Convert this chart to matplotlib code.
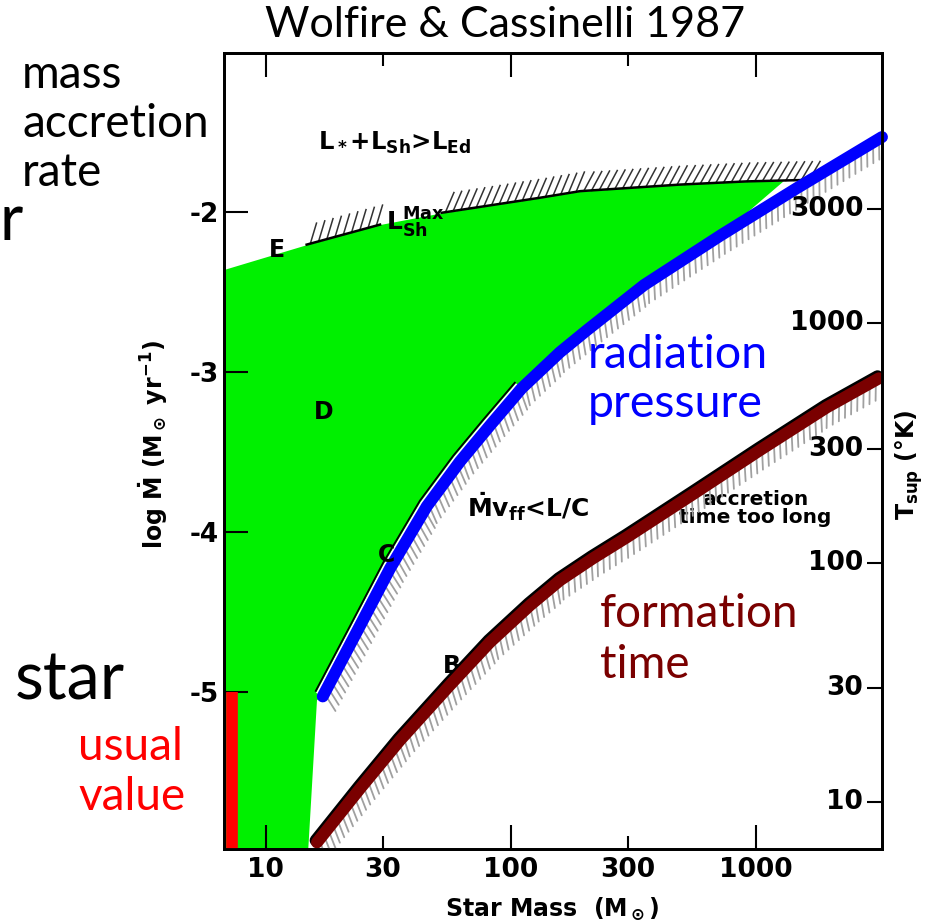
import matplotlib.pyplot as plt
import matplotlib.patheffects as pe
from matplotlib.ticker import NullLocator
from matplotlib.transforms import offset_copy, blended_transform_factory

plt.rcParams['mathtext.default'] = 'regular'
plt.rcParams['axes.unicode_minus'] = False

# ---- limit curves (star mass in Msun, log Mdot in Msun/yr) ----
# C : radiation pressure of the protostar halts accretion
rad_mass = [17.1, 23.6, 32.2, 45.5, 62.1, 82.3, 111, 159, 205, 350, 722, 1474, 3278]
rad_mdot = [-5.027, -4.621, -4.227, -3.839, -3.560, -3.335, -3.102, -2.877,
            -2.739, -2.458, -2.146, -1.852, -1.533]

# B : accretion time longer than formation time
form_mass = [16.2, 24.3, 35.3, 56.5, 82.3, 120, 159, 217, 298, 555, 1041, 1954, 3186]
form_mdot = [-5.939, -5.602, -5.302, -4.957, -4.689, -4.458, -4.302, -4.164,
             -4.033, -3.764, -3.489, -3.221, -3.04]

# E : L* + L_sh reaches the Eddington limit
lum_mass = [14.7, 29.3, 52.3, 132, 192, 491, 919, 1714]
lum_mdot = [-2.205, -2.08, -2.006, -1.912, -1.871, -1.83, -1.81, -1.80]

# allowed region (D)
green_top_mass = [6.76, 14.7, 29.3, 52.3, 132, 192, 491, 919, 1300]
green_top_mdot = [-2.364, -2.209, -2.083, -2.01, -1.916, -1.875, -1.833, -1.8125, -1.81]
green_edge_mass = [16.2, 14.9]
green_edge_mdot = [-5.05, -6.0]

# typical low-mass accretion rate
usual_mass = 7.3
usual_mdot = [-5.0, -6.0]

mass_major = [10, 100, 1000]
mass_minor = [30, 300]
mdot_ticks = [-5, -4, -3, -2]
tsup_ticks = [10, 30, 100, 300, 1000, 3000]

W, H = 933, 924
fig = plt.figure(figsize=(W / 100, H / 100), dpi=100)
ax = fig.add_axes([224 / W, 1 - 849 / H, (881.7 - 224) / W, (849 - 53.3) / H])


def fpos(x, y):
    return x / W, 1 - y / H


AXF = dict(family='DejaVu Sans', fontweight='bold')
OVF = 'Lato'

ax.set_xscale('log')
ax.set_xlim(6.76, 3270)
ax.set_ylim(-5.98, -1.01)

# green allowed zone
poly_m = [green_top_mass[0]] + green_top_mass + rad_mass[10::-1] + green_edge_mass
poly_y = [-6.0] + green_top_mdot + rad_mdot[10::-1] + green_edge_mdot
ax.fill(poly_m, poly_y, color='#00f000', lw=0, zorder=1)

# Eddington / L_sh max boundary with hatching above
top_fx = [pe.TickedStroke(spacing=5.5, angle=58, length=2.8, linewidth=1.1,
                          foreground='#333333'), pe.Normal()]
ax.plot(lum_mass[:2], lum_mdot[:2], color='black', lw=1.8, zorder=3, path_effects=top_fx)
ax.plot(lum_mass[2:], lum_mdot[2:], color='black', lw=1.8, zorder=3, path_effects=top_fx)

# radiation pressure limit: original thin line C beside the blue band
ax.plot(rad_mass[:7], rad_mdot[:7], color='white', lw=11, zorder=3,
        solid_capstyle='butt')
ax.plot(rad_mass[:7], rad_mdot[:7], color='black', lw=1.3, zorder=3,
        transform=offset_copy(ax.transData, fig=fig, x=-5, y=4, units='points'))
hatch = pe.TickedStroke(spacing=5, angle=-120, length=3.0, linewidth=1.3,
                        foreground='#a0a0a0')
ax.plot(rad_mass, rad_mdot, color='#0000ff', lw=8.6, zorder=4,
        solid_capstyle='round', solid_joinstyle='round', clip_on=False,
        path_effects=[hatch, pe.Normal()])

# formation time limit
ax.plot(form_mass, form_mdot, color='black', lw=8.6, zorder=4,
        solid_capstyle='round', solid_joinstyle='round',
        transform=offset_copy(ax.transData, fig=fig, x=-1, y=1.5, units='points'))
ax.plot(form_mass, form_mdot, color='#7a0000', lw=8.6, zorder=4,
        solid_capstyle='round', solid_joinstyle='round',
        path_effects=[hatch, pe.Normal()])

# usual value bar
ax.plot([usual_mass, usual_mass], usual_mdot, color='#ff0000', lw=8.4, zorder=4,
        solid_capstyle='butt')

# region labels
ax.text(11.1, -2.24, 'E', ha='center', va='center', fontsize=17, zorder=5, **AXF)
ax.text(31.0, -2.07, r'L$_{Sh}^{Max}$', ha='left', va='center', fontsize=18, zorder=5, **AXF)
ax.text(33.7, -1.571, r'L$_*$+L$_{Sh}$>L$_{Ed}$', ha='center', va='center',
        fontsize=17.5, zorder=5, **AXF)
ax.text(17.2, -3.25, 'D', ha='center', va='center', fontsize=17, zorder=5, **AXF)
ax.text(31.2, -4.146, 'C', ha='center', va='center', fontsize=17, zorder=5, **AXF)
ax.text(117.7, -3.84, r'$\dot{M}$v$_{ff}$<L/C', ha='center', va='center',
        fontsize=18, zorder=5, **AXF)
ax.text(57.6, -4.834, 'B', ha='center', va='center', fontsize=17, zorder=3, **AXF)
ax.text(1000, -3.855, 'accretion\ntime too long', ha='center', va='center',
        fontsize=14.5, linespacing=0.95, zorder=3, **AXF)

# bottom / top ticks
ax.set_xticks(mass_major, labels=[str(m) for m in mass_major], fontsize=19, **AXF)
ax.set_xticks(mass_minor, labels=[str(m) for m in mass_minor], minor=True,
              fontsize=19, **AXF)
ax.tick_params(axis='x', which='major', direction='in', length=17, width=1.5,
               top=True, pad=6)
ax.tick_params(axis='x', which='minor', direction='in', length=9.5, width=1.5,
               top=True, pad=6)
ax.set_yticks(mdot_ticks, labels=[str(v) for v in mdot_ticks], fontsize=19, **AXF)
ax.tick_params(axis='y', direction='in', length=17, width=1.5, pad=4)
for s in ax.spines.values():
    s.set_linewidth(2)

ax.set_xlabel(r'Star Mass  (M$_\odot$)', fontsize=17, **AXF)
ax.xaxis.set_label_coords(0.499, -0.058)
ax.xaxis.label.set_va('top')
ax.set_ylabel(r'log $\dot{M}$ (M$_\odot$ yr$^{-1}$)', fontsize=17, **AXF)
ax.yaxis.set_label_coords(-0.082, 0.508)

# supernova-shell temperature axis on the right, labels sit inside the frame
ax2 = ax.twinx()
ax2.set_yscale('log')
ax2.set_ylim(6.37, 13460)
ax2.set_yticks(tsup_ticks, labels=[])
ax2.yaxis.set_minor_locator(NullLocator())
ax2.tick_params(axis='y', direction='in', length=11, width=1.5)
tlab = blended_transform_factory(ax2.transAxes, ax2.transData)
for t in tsup_ticks:
    ax2.text(0.972, t, str(t), transform=tlab, ha='right', va='center',
             fontsize=19, **AXF)
ax2.set_ylabel(r'T$_{sup}$ (°K)', fontsize=17, **AXF)
ax2.yaxis.set_label_coords(1.017, 0.483)
for s in ax2.spines.values():
    s.set_linewidth(2)

# annotations around the diagram
fig.text(*fpos(505, 25), 'Wolfire & Cassinelli 1987', ha='center', va='center',
         fontsize=31, family=OVF)
for word, yb in zip(['mass', 'accretion', 'rate'], [88, 137, 186]):
    fig.text(*fpos(22, yb), word, ha='left', va='baseline', fontsize=33, family=OVF)
fig.text(*fpos(0, 240), 'r', ha='left', va='baseline', fontsize=46, family=OVF)
fig.text(*fpos(15, 700), 'star', ha='left', va='baseline', fontsize=48, family=OVF)
for word, yb in zip(['usual', 'value'], [760, 810]):
    fig.text(*fpos(78, yb), word, ha='left', va='baseline', fontsize=33,
             family=OVF, color='#ff0000')
for word, yb in zip(['radiation', 'pressure'], [368, 417]):
    fig.text(*fpos(588, yb), word, ha='left', va='baseline', fontsize=33.5,
             family=OVF, color='#0000ff', zorder=6)
for word, yb in zip(['formation', 'time'], [627, 678]):
    fig.text(*fpos(600, yb), word, ha='left', va='baseline', fontsize=33,
             family=OVF, color='#7a0000', zorder=6)

fig.savefig('out.png', dpi=100)
